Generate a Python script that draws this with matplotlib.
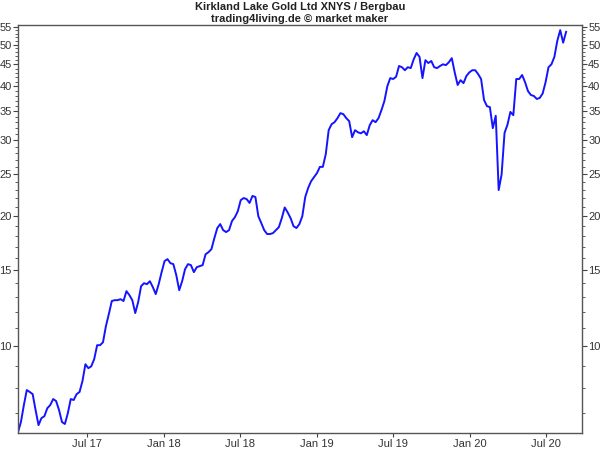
import matplotlib
matplotlib.use("Agg")
import matplotlib.pyplot as plt
import matplotlib.dates as mdates
from matplotlib.ticker import FixedLocator, FixedFormatter, NullFormatter
import pandas as pd

plt.rcParams["font.family"] = ["Liberation Sans", "DejaVu Sans"]

title_line1 = "Kirkland Lake Gold Ltd XNYS / Bergbau"
title_line2 = "trading4living.de © market maker"

start_date = "2017-01-17"
prices = [
    6.32, 6.67, 7.30, 7.91, 7.83, 7.74, 7.11, 6.56, 6.81, 6.88,
    7.18, 7.30, 7.54, 7.46, 7.11, 6.67, 6.60, 6.99, 7.54, 7.50,
    7.74, 7.83, 8.30, 9.08, 8.89, 8.98, 9.33, 10.05, 10.05, 10.21,
    11.13, 11.87, 12.72, 12.78, 12.78, 12.85, 12.72, 13.41, 13.13, 12.78,
    11.93, 12.65, 13.77, 13.99, 13.92, 14.14, 13.70, 13.20, 13.92, 14.84,
    15.74, 15.91, 15.57, 15.49, 14.61, 13.48, 14.14, 15.08, 15.49, 15.41,
    14.84, 15.24, 15.32, 15.41, 16.33, 16.51, 16.78, 17.80, 18.78, 19.18,
    18.57, 18.38, 18.57, 19.49, 19.90, 20.55, 21.80, 22.04, 21.92, 21.47,
    22.29, 22.16, 20.00, 19.29, 18.57, 18.19, 18.19, 18.28, 18.57, 18.87,
    19.80, 20.96, 20.42, 19.80, 18.97, 18.78, 19.18, 20.00, 22.16, 23.26,
    24.11, 24.64, 25.18, 26.03, 26.03, 27.84, 31.66, 32.69, 33.04, 33.76,
    34.67, 34.49, 33.76, 33.22, 30.50, 31.66, 31.30, 31.13, 31.48, 30.84,
    32.50, 33.40, 33.04, 33.76, 35.23, 36.96, 40.00, 41.80, 41.60, 42.10,
    44.60, 44.30, 43.60, 44.30, 44.10, 46.20, 47.80, 46.80, 41.80, 46.00,
    45.30, 45.80, 44.30, 44.10, 44.60, 45.00, 44.80, 45.50, 46.50, 43.10,
    40.30, 41.35, 40.70, 42.30, 43.10, 43.60, 43.60, 42.70, 41.60, 37.20,
    36.00, 35.80, 32.00, 34.20, 23.00, 25.00, 31.20, 32.60, 34.90, 34.30,
    41.60, 41.60, 42.50, 40.90, 39.00, 38.20, 38.00, 37.40, 37.60, 38.50,
    40.90, 44.30, 45.00, 46.80, 51.00, 54.00, 50.50, 53.50,
]

y_ticks = [10, 15, 20, 25, 30, 35, 40, 45, 50, 55]
y_minor = [7, 8, 9, 11, 12, 13, 14, 16, 17, 18, 19, 21, 22, 23, 24, 26, 27, 28, 29,
           31, 32, 33, 34, 36, 37, 38, 39, 41, 42, 43, 44, 46, 47, 48, 49, 51, 52, 53, 54]
x_tick_dates = ["2017-07-01", "2018-01-01", "2018-07-01", "2019-01-01",
                "2019-07-01", "2020-01-01", "2020-07-01"]
x_tick_labels = ["Jul 17", "Jan 18", "Jul 18", "Jan 19", "Jul 19", "Jan 20", "Jul 20"]

dates = pd.date_range(start_date, periods=len(prices), freq="7D")

fig = plt.figure(figsize=(6, 4.5), dpi=100)
ax = fig.add_axes([18 / 600, 17 / 450, 564 / 600, 408 / 450])
ax.plot(dates, prices, color="#1414ff", lw=1.4, solid_joinstyle="round")

ax.set_yscale("log")
ax.set_ylim(6.29, 55.5)
ax.set_xlim(pd.Timestamp("2017-01-17"), pd.Timestamp("2020-09-25"))

ax.yaxis.set_major_locator(FixedLocator(y_ticks))
ax.yaxis.set_major_formatter(FixedFormatter([str(v) for v in y_ticks]))
ax.yaxis.set_minor_locator(FixedLocator(y_minor))
ax.yaxis.set_minor_formatter(NullFormatter())

xt = [mdates.date2num(pd.Timestamp(d)) for d in x_tick_dates]
ax.set_xticks(xt)
ax.set_xticklabels(x_tick_labels)
ax.xaxis.set_minor_locator(FixedLocator([]))

ax.tick_params(axis="y", which="both", left=True, right=True, labelleft=True,
               labelright=True, direction="out", colors="#444444",
               labelcolor="#333333", labelsize=8, pad=1)
ax.tick_params(axis="y", which="major", length=3.5, width=0.8)
ax.tick_params(axis="y", which="minor", length=2, width=0.6)
ax.tick_params(axis="x", which="major", length=3, width=0.8, colors="#444444",
               labelcolor="#333333", labelsize=8, pad=1)

for s in ax.spines.values():
    s.set_color("#555555")
    s.set_linewidth(1.0)

fig.text(0.5, 1 - 7 / 450, title_line1, ha="center", va="center",
         fontsize=8, fontweight="bold", color="#222222")
fig.text(0.5, 1 - 19 / 450, title_line2, ha="center", va="center",
         fontsize=8, fontweight="bold", color="#222222")

fig.savefig("out.png", dpi=100)
